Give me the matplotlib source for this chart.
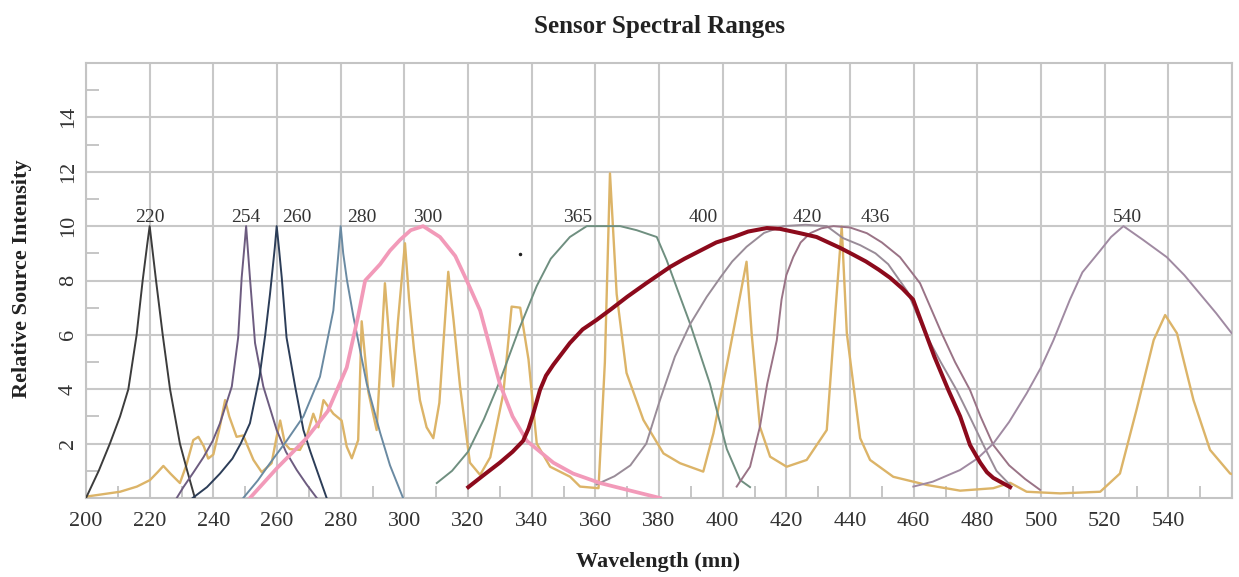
import numpy as np
import matplotlib
matplotlib.use("Agg")
from matplotlib import pyplot as plt
from matplotlib.ticker import MultipleLocator

plt.rcParams['font.family'] = ['Liberation Serif', 'DejaVu Serif']

# ---- data (wavelength nm, relative intensity) ----
hg_x = [200, 210.7, 216, 220.1, 222.5, 224.3, 226.5, 229.5, 231.5, 233.7, 235.3, 237, 238.4, 240, 242, 243.7,
        245, 247.3, 249.4, 250.8, 252.6, 255.2, 258.3, 259.8, 261, 262.5, 264, 267.2, 269.3, 271.4,
        273, 274.6, 277.7, 280.3, 281.9, 283.5, 285.5, 286.6, 288.7, 291.3, 293.9, 295.5, 296.5,
        298, 300.2, 301.5, 303, 304.9, 307, 309.1, 311, 313.8, 315.5, 317.5, 320.6, 323.8, 327,
        331.1, 333.7, 336.4, 339, 341.6, 345.8, 352.1, 355.2, 361, 363, 364.6, 366.7, 369.8,
        375.1, 381.4, 386.6, 393.9, 397.1, 402, 407.5, 409.1, 411.7, 414.9, 420.1, 426.4, 432.7,
        435.5, 437.4, 439, 443.2, 446.3, 453.6, 464.1, 474.6, 485, 490.3, 495.5, 506, 518.6,
        524.8, 530, 535.4, 539, 542.7, 547.9, 553.1, 559.4, 560]
hg_y = [0.05, 0.23, 0.42, 0.66, 0.95, 1.18, 0.9, 0.55, 1.2, 2.13, 2.25, 1.9, 1.45, 1.6, 2.6, 3.6,
        3.0, 2.25, 2.3, 1.9, 1.4, 0.95, 1.28, 2.2, 2.85, 2.0, 1.8, 1.77, 2.25, 3.1,
        2.6, 3.6, 3.1, 2.85, 1.89, 1.46, 2.13, 6.5, 3.9, 2.5, 7.9, 5.5, 4.1,
        6.5, 9.37, 7.3, 5.5, 3.6, 2.6, 2.2, 3.5, 8.32, 6.5, 4.1, 1.3, 0.85, 1.5,
        3.85, 7.04, 7.0, 5.1, 2.0, 1.15, 0.78, 0.42, 0.36, 5.0, 11.94, 7.5, 4.6,
        2.87, 1.64, 1.28, 0.97, 2.38, 5.3, 8.69, 6.06, 2.62, 1.52, 1.15, 1.4, 2.5,
        7.0, 9.98, 6.06, 2.2, 1.4, 0.78, 0.48, 0.27, 0.36, 0.56, 0.23, 0.17, 0.23,
        0.9, 3.24, 5.81, 6.73, 6.06, 3.6, 1.77, 0.9, 0.88]

p220_x = [200, 204, 207.5, 210.7, 213.3, 215.9, 217.8, 219.2, 220, 220.8, 222, 224.1, 226.4, 229.5, 231.8, 234.2]
p220_y = [0, 1, 2, 3, 4, 6, 8, 9.3, 10, 9.2, 8, 6, 4, 2, 1, 0]

p254_x = [228.5, 230.6, 233.8, 236.9, 239.8, 242.1, 245.8, 247.8, 248.9, 249.8, 250.3, 250.8, 251.5,
          253.1, 255.7, 259.9, 262.8, 266.2, 269.3, 272.5]
p254_y = [0, 0.4, 0.95, 1.5, 2.1, 2.75, 4.1, 5.9, 8.1, 9.3, 10, 9.2, 8.1,
          5.7, 4.1, 2.5, 1.7, 1.03, 0.5, 0]

p260_x = [233.5, 238, 242.1, 246, 248.6, 251.5, 254.5, 256.3, 257.8, 259.3, 259.9, 260.6, 261.5,
          263, 265.7, 268.3, 270.5, 272.5, 275.6]
p260_y = [0, 0.4, 0.9, 1.45, 2.0, 2.75, 4.46, 6.0, 7.5, 9.2, 10, 9.2, 8.1,
          5.9, 4.1, 2.5, 1.7, 1.03, 0]

p280_x = [249.4, 254, 257.8, 263, 268.3, 273.5, 277.7, 279.3, 280, 280.8, 282, 284, 288.2, 292.4,
          295.5, 299.6]
p280_y = [0, 0.65, 1.28, 2.1, 3.0, 4.46, 6.9, 9.0, 10, 9.0, 8.0, 6.67, 4.2, 2.4, 1.2, 0]

pink_x = [251.5, 260, 269.3, 276, 281.9, 285.5, 287.7, 292.4, 295.5, 298.7, 302, 305.9, 311.2,
          316, 319.6, 323.8, 330, 334, 338.5, 346.8, 353, 361.5, 370, 380.3]
pink_y = [0, 1.1, 2.2, 3.2, 4.8, 6.7, 8.0, 8.6, 9.1, 9.5, 9.85, 10.0, 9.6,
          8.9, 8.0, 6.9, 4.2, 3.0, 2.1, 1.3, 0.9, 0.55, 0.3, 0]

p365_x = [310.2, 315, 320, 325, 330, 336, 341.6, 346, 352, 357.3, 367.8, 373, 379.3, 382.4, 386,
          389.8, 396, 401.3, 405.5, 408.6]
p365_y = [0.55, 1.0, 1.7, 2.9, 4.3, 6.2, 7.8, 8.8, 9.6, 10, 10, 9.85, 9.6, 8.75, 7.6,
          6.4, 4.2, 1.8, 0.66, 0.4]

red_x = [320.1, 325, 330, 334, 337.3, 339, 340.5, 342.6, 344.5, 346.8, 352, 356, 360.4, 365, 370,
         376, 383.5, 388, 393, 398, 403.4, 408, 413.9, 418, 424.3, 429.5, 436.9, 441, 445, 449,
         452.6, 456.5, 459.8, 463, 466.5, 470.9, 474.6, 477.7, 480.9, 483, 485, 490.3]
red_y = [0.4, 0.85, 1.3, 1.7, 2.1, 2.55, 3.1, 3.97, 4.5, 4.9, 5.7, 6.2, 6.55, 6.95, 7.4,
         7.9, 8.5, 8.8, 9.1, 9.4, 9.6, 9.8, 9.93, 9.9, 9.74, 9.6, 9.2, 8.95, 8.7, 8.4,
         8.1, 7.7, 7.3, 6.3, 5.2, 3.97, 3.0, 1.95, 1.3, 0.95, 0.74, 0.4]

p420_x = [360.4, 366, 371, 376, 380.3, 385, 389.8, 395, 399.2, 403, 407.5, 413, 419, 426, 432.7, 437.8,
          443.2, 448, 452, 458, 463.6, 468.5, 473.5, 478, 481.9, 486, 490.3]
p420_y = [0.5, 0.8, 1.2, 2.0, 3.6, 5.2, 6.4, 7.4, 8.1, 8.7, 9.24, 9.75, 10, 10.05, 10, 9.56,
          9.3, 9.0, 8.6, 7.6, 6.06, 5.0, 3.97, 2.9, 1.95, 1.0, 0.48]

p436_x = [404.4, 408.6, 411.7, 414, 417, 418.5, 420, 422.2, 424.5, 427.5, 431, 434.8, 440, 445.3,
          450, 455.7, 462, 468.8, 473, 477.7, 481, 485, 490, 495, 499.7]
p436_y = [0.42, 1.15, 2.62, 4.2, 5.8, 7.3, 8.2, 8.87, 9.4, 9.74, 9.92, 10, 9.95, 9.74,
          9.4, 8.86, 7.9, 6.06, 5.0, 3.97, 3.0, 1.95, 1.2, 0.7, 0.3]

p540_x = [459.9, 466, 470, 474.6, 480, 485, 490, 495.5, 500, 503.9, 509.1, 513, 518.6, 522, 525.9, 532,
          539.5, 545, 550, 555, 559.9]
p540_y = [0.42, 0.6, 0.8, 1.03, 1.45, 2.0, 2.8, 3.85, 4.8, 5.8, 7.3, 8.3, 9.1, 9.6, 10, 9.5,
          8.86, 8.2, 7.5, 6.8, 6.06]

peak_labels = ['220', '254', '260', '280', '300', '365', '400', '420', '436', '540']
label_x = [220.1, 250.3, 266.2, 286.6, 307.4, 354.3, 393.9, 426.5, 447.9, 527]

# ---- figure ----
W, H = 1239, 577
fig = plt.figure(figsize=(W / 100, H / 100), dpi=100)
ax = fig.add_axes([86 / W, 1 - 498 / H, (1232 - 86) / W, (498 - 63) / H])

thin = 1.4
ax.plot(hg_x, hg_y, color='#dcb468', lw=1.7, zorder=3)
ax.plot(p220_x, p220_y, color='#3c3c3c', lw=thin, zorder=4)
ax.plot(p254_x, p254_y, color='#6d5c80', lw=thin, zorder=4)
ax.plot(p260_x, p260_y, color='#2c3d58', lw=thin, zorder=4)
ax.plot(p280_x, p280_y, color='#6a8aa2', lw=thin, zorder=4)
ax.plot(p365_x, p365_y, color='#6f8f80', lw=thin, zorder=4)
ax.plot(p420_x, p420_y, color='#998c98', lw=thin, zorder=4)
ax.plot(p436_x, p436_y, color='#9a7386', lw=thin, zorder=4)
ax.plot(p540_x, p540_y, color='#a08aa2', lw=thin, zorder=4)
ax.plot(pink_x, pink_y, color='#f29ab9', lw=2.7, zorder=5, solid_joinstyle='round')
ax.plot(red_x, red_y, color='#8c0a1c', lw=2.9, zorder=6, solid_joinstyle='round')
ax.plot([336.4], [8.96], 'o', color='#222222', ms=1.5, zorder=6)

for lab, lx in zip(peak_labels, label_x):
    ax.text(lx, 10.3, lab, ha='center', va='center', fontsize=14, color='#333333', zorder=7)

ax.set_xlim(200, 560)
ax.set_ylim(0, 16)
ax.set_xticks(np.arange(200, 541, 20))
ax.set_yticks(np.arange(2, 15, 2))
ax.set_xticks(np.arange(210, 551, 20), minor=True)
ax.set_yticks(np.arange(1, 16, 2), minor=True)

ax.grid(True, which='major', color='#c8c8c8', lw=1.5, zorder=0)
ax.axvline(560, color='#c8c8c8', lw=1.5, zorder=0)
ax.set_axisbelow(True)
for s in ax.spines.values():
    s.set_color('#c4c4c4')
    s.set_linewidth(1.5)

ax.tick_params(which='major', length=0, labelsize=16, labelcolor='#333333')
ax.tick_params(axis='x', which='major', pad=10)
ax.tick_params(axis='y', which='major', pad=6)
ax.tick_params(which='minor', direction='in', length=9, width=1.2, color='#bcbcbc')
for t in ax.get_yticklabels():
    t.set_rotation(90)
    t.set_va('center')

fig.text(659 / W, 1 - 27 / H, 'Sensor Spectral Ranges', ha='center', va='center',
         fontsize=18, fontweight='bold', color='#222222')
fig.text(658 / W, 1 - 562 / H, 'Wavelength (mn)', ha='center', va='center',
         fontsize=16, fontweight='bold', color='#222222')
fig.text(22 / W, 1 - 279 / H, 'Relative Source Intensity', ha='center', va='center',
         rotation=90, fontsize=16, fontweight='bold', color='#222222')

fig.savefig('out.png', dpi=100)
